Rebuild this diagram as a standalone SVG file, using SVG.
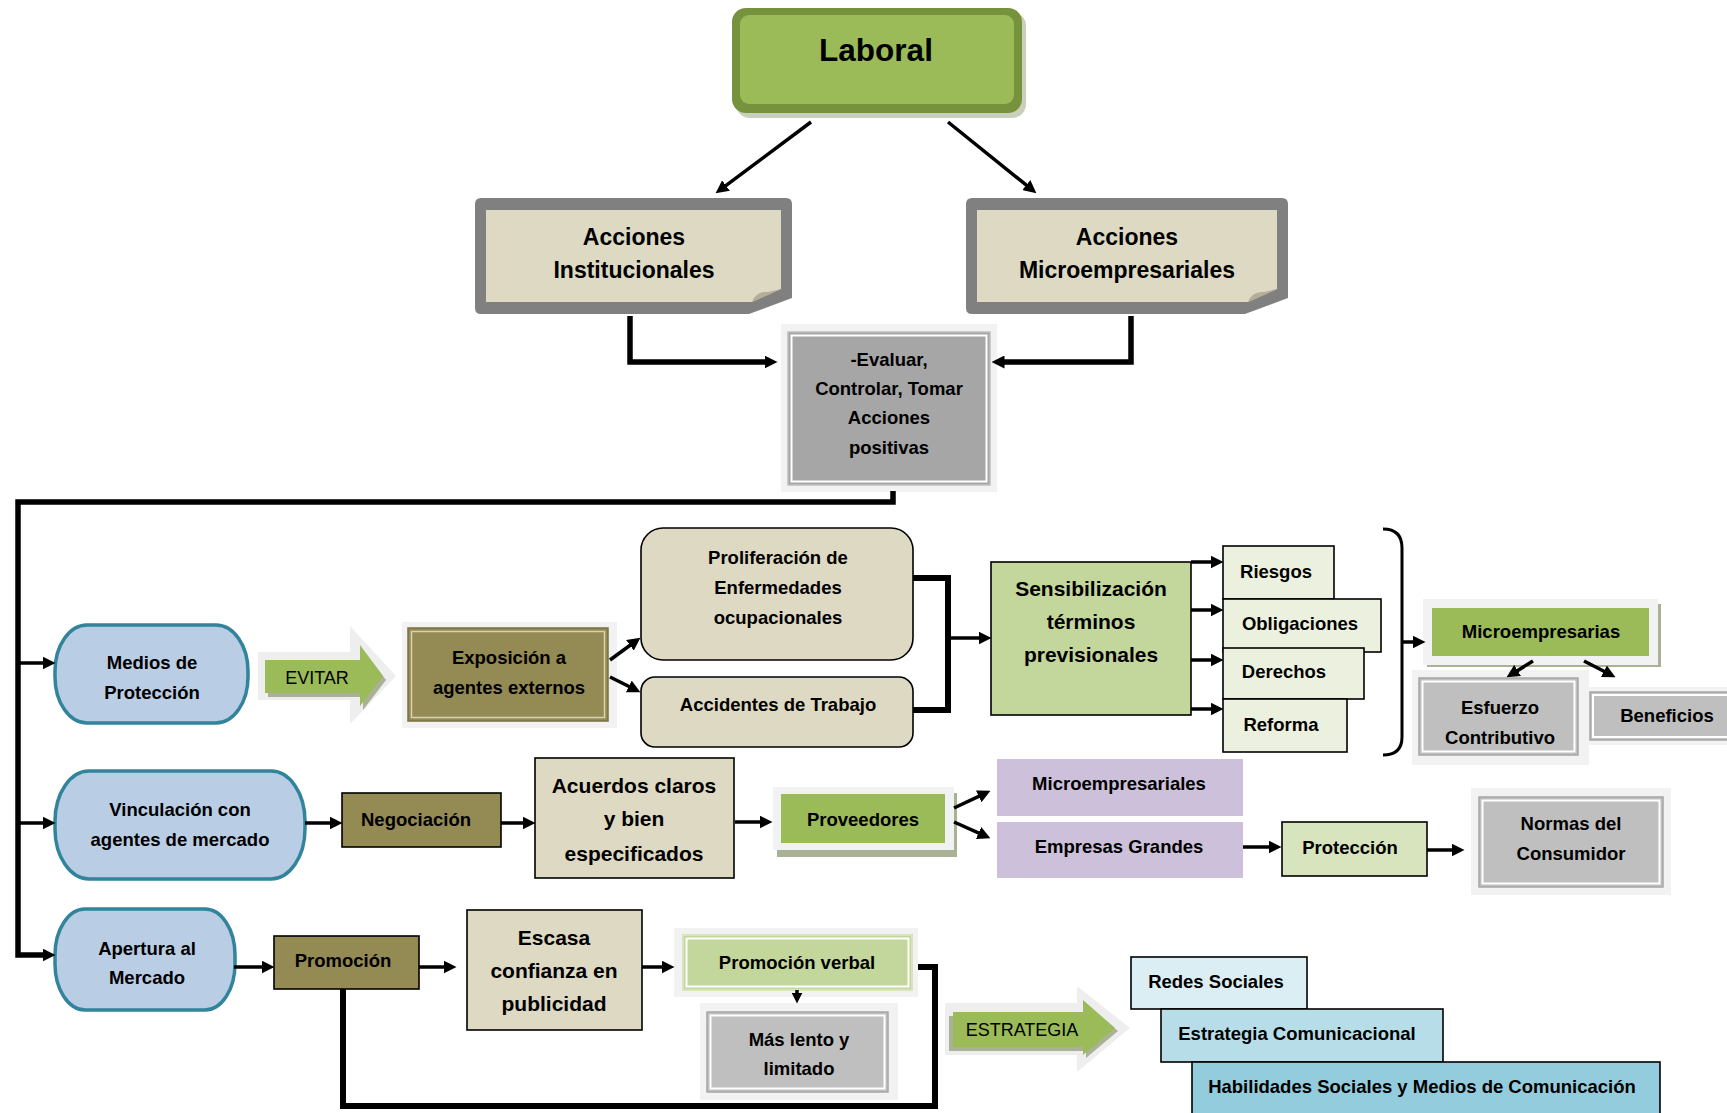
<svg xmlns="http://www.w3.org/2000/svg" width="1727" height="1113" viewBox="0 0 1727 1113">
<style>
text{font-family:"Liberation Sans Narrow","Liberation Sans",Arial,sans-serif;font-weight:bold;text-anchor:middle;fill:#000}
.r{font-weight:normal}
.s17{font-size:18.5px}
.s22{font-size:21px}
.s23{font-size:23px}
.ln{fill:none;stroke:#000;stroke-width:3.5}
.thk{fill:none;stroke:#000;stroke-width:5.5}
.frame{fill:#F2F2F2}
.bx{stroke:#000;stroke-width:1.6}
.pill{fill:#B9CDE5;stroke:#31849B;stroke-width:3.5}
.beige{fill:#DDD9C3}
.olive{fill:#948A54}
.gray{fill:#BFBFBF;stroke:#A6A6A6;stroke-width:1.5}
.wl{fill:none;stroke:#FFFFFF;stroke-width:2}
.green{fill:#9BBB59}
.lgreen{fill:#C3D69B}
.pale{fill:#EBF1DE}
.lav{fill:#CCC0DA}
.shadow{fill:#A9B196}
</style>
<defs>
<marker id="ah" viewBox="0 0 10 10" refX="5" refY="5" markerWidth="13" markerHeight="13" markerUnits="userSpaceOnUse" orient="auto"><path d="M0,0 L10,5 L0,10 z" fill="#000"/></marker>
<marker id="ahs" viewBox="0 0 10 10" refX="4" refY="5" markerWidth="11" markerHeight="11" markerUnits="userSpaceOnUse" orient="auto"><path d="M0,0 L10,5 L0,10 z" fill="#000"/></marker>
</defs>
<rect width="1727" height="1113" fill="#FFFFFF"/>

<g id="laboral">
<rect x="736" y="12" width="290" height="106" rx="14" fill="#C9CFBA"/>
<rect x="732" y="8" width="290" height="105" rx="14" fill="#76923C"/>
<rect x="740" y="15" width="274" height="89" rx="9" class="green"/>
<text x="876" y="61" style="font-family:'Liberation Sans',Arial,sans-serif;font-size:31.5px">Laboral</text>
</g>

<g id="acciones-institucionales">
<path d="M475,204 Q475,198 481,198 H786 Q792,198 792,204 V298 L749,314 H481 Q475,314 475,308 Z" fill="#808080"/>
<path d="M486,210 H781 V289 L752,302 H486 Z" class="beige"/>
<path d="M752,302 Q756,291 768,292 L781,289 L752,302 Z" fill="#B3AE96"/>
<text class="s23" x="634" y="245">Acciones</text>
<text class="s23" x="634" y="278">Institucionales</text>
</g>

<g id="acciones-microempresariales">
<path d="M966,204 Q966,198 972,198 H1282 Q1288,198 1288,204 V298 L1245,314 H972 Q966,314 966,308 Z" fill="#808080"/>
<path d="M977,210 H1277 V289 L1248,302 H977 Z" class="beige"/>
<path d="M1248,302 Q1252,291 1264,292 L1277,289 L1248,302 Z" fill="#B3AE96"/>
<text class="s23" x="1127" y="245">Acciones</text>
<text class="s23" x="1127" y="278">Microempresariales</text>
</g>

<g id="evaluar">
<rect x="781" y="324" width="216" height="168" class="frame"/>
<rect x="788" y="332" width="202" height="153" fill="#A6A6A6" stroke="#BFBFBF" stroke-width="1.5"/>
<rect x="791.5" y="335.5" width="195" height="146" class="wl"/>
<text class="s17" x="889" y="366">-Evaluar,</text>
<text class="s17" x="889" y="395">Controlar, Tomar</text>
<text class="s17" x="889" y="424">Acciones</text>
<text class="s17" x="889" y="454">positivas</text>
</g>

<g id="medios">
<rect x="55" y="625" width="193" height="98" rx="32" ry="46" class="pill"/>
<text class="s17" x="152" y="669">Medios de</text>
<text class="s17" x="152" y="699">Protección</text>
</g>

<g id="evitar">
<polygon points="258,652 350,652 350,626 396,676 350,724 350,700 258,700" fill="#EEEEEE"/>
<polygon points="268,664 363,664 363,650 386,680 363,710 363,697 268,697" class="shadow"/>
<polygon points="265,660 360,660 360,645 383,676 360,706 360,693 265,693" class="green"/>
<text class="r" x="317" y="684" style="font-size:18px">EVITAR</text>
</g>

<g id="exposicion">
<rect x="402" y="622" width="215" height="106" class="frame"/>
<rect x="408" y="628" width="200" height="93" class="olive" stroke="#7A7040" stroke-width="1.5"/>
<rect x="411.5" y="631.5" width="193" height="86" fill="none" stroke="#D8D2B0" stroke-width="1.5"/>
<text class="s17" x="509" y="664">Exposición a</text>
<text class="s17" x="509" y="694">agentes externos</text>
</g>

<g id="proliferacion">
<rect x="641" y="528" width="272" height="132" rx="22" class="beige bx"/>
<text class="s17" x="778" y="564">Proliferación de</text>
<text class="s17" x="778" y="594">Enfermedades</text>
<text class="s17" x="778" y="624">ocupacionales</text>
</g>

<g id="accidentes">
<rect x="641" y="677" width="272" height="70" rx="14" class="beige bx"/>
<text class="s17" x="778" y="711">Accidentes de Trabajo</text>
</g>

<g id="sensibilizacion">
<rect x="991" y="562" width="200" height="153" class="lgreen bx"/>
<text class="s22" x="1091" y="596">Sensibilización</text>
<text class="s22" x="1091" y="629">términos</text>
<text class="s22" x="1091" y="662">previsionales</text>
</g>

<g id="riesgos">
<rect x="1223" y="546" width="111" height="53" class="pale bx"/>
<text class="s17" x="1276" y="578">Riesgos</text>
</g>
<g id="obligaciones">
<rect x="1223" y="599" width="158" height="53" class="pale bx"/>
<text class="s17" x="1300" y="630">Obligaciones</text>
</g>
<g id="derechos">
<rect x="1223" y="648" width="141" height="51" class="pale bx"/>
<text class="s17" x="1284" y="678">Derechos</text>
</g>
<g id="reforma">
<rect x="1223" y="699" width="124" height="53" class="pale bx"/>
<text class="s17" x="1281" y="731">Reforma</text>
</g>

<g id="microempresarias">
<rect x="1427" y="604" width="234" height="63" class="shadow"/>
<rect x="1423" y="599" width="235" height="66" class="frame"/>
<rect x="1432" y="608" width="217" height="48" class="green"/>
<text class="s17" x="1541" y="638">Microempresarias</text>
</g>

<g id="beneficios">
<rect x="1585" y="687" width="150" height="58" class="frame"/>
<rect x="1590" y="692" width="145" height="48" class="gray"/>
<rect x="1593" y="695" width="145" height="42" class="wl"/>
<text class="s17" x="1667" y="722">Beneficios</text>
</g>

<g id="esfuerzo">
<rect x="1412" y="670" width="177" height="95" class="frame"/>
<rect x="1419" y="678" width="159" height="77" class="gray"/>
<rect x="1422.5" y="681.5" width="152" height="70" class="wl"/>
<text class="s17" x="1500" y="714">Esfuerzo</text>
<text class="s17" x="1500" y="744">Contributivo</text>
</g>

<g id="vinculacion">
<rect x="55" y="771" width="250" height="108" rx="34" ry="50" class="pill"/>
<text class="s17" x="180" y="816">Vinculación con</text>
<text class="s17" x="180" y="846">agentes de mercado</text>
</g>

<g id="negociacion">
<rect x="342" y="793" width="159" height="54" class="olive bx"/>
<text class="s17" x="416" y="826">Negociación</text>
</g>

<g id="acuerdos">
<rect x="535" y="758" width="199" height="120" class="beige bx"/>
<text class="s22" x="634" y="793">Acuerdos claros</text>
<text class="s22" x="634" y="826">y bien</text>
<text class="s22" x="634" y="861">especificados</text>
</g>

<g id="proveedores">
<rect x="777" y="793" width="180" height="64" class="shadow"/>
<rect x="773" y="787" width="181" height="63" class="frame"/>
<rect x="781" y="794" width="164" height="49" class="green"/>
<text class="s17" x="863" y="826">Proveedores</text>
</g>

<g id="microempresariales">
<rect x="997" y="759" width="246" height="57" class="lav"/>
<text class="s17" x="1119" y="790">Microempresariales</text>
</g>

<g id="empresas-grandes">
<rect x="997" y="822" width="246" height="56" class="lav"/>
<text class="s17" x="1119" y="853">Empresas Grandes</text>
</g>

<g id="proteccion">
<rect x="1282" y="822" width="145" height="54" fill="#D7E4BD" class="bx"/>
<text class="s17" x="1350" y="854">Protección</text>
</g>

<g id="normas">
<rect x="1471" y="788" width="200" height="107" class="frame"/>
<rect x="1479" y="797" width="184" height="90" class="gray"/>
<rect x="1482.5" y="800.5" width="177" height="83" class="wl"/>
<text class="s17" x="1571" y="830">Normas del</text>
<text class="s17" x="1571" y="860">Consumidor</text>
</g>

<g id="apertura">
<rect x="55" y="909" width="180" height="101" rx="30" ry="46" class="pill"/>
<text class="s17" x="147" y="955">Apertura al</text>
<text class="s17" x="147" y="984">Mercado</text>
</g>

<g id="promocion">
<rect x="274" y="936" width="145" height="53" class="olive bx"/>
<text class="s17" x="343" y="967">Promoción</text>
</g>

<g id="escasa">
<rect x="467" y="910" width="175" height="120" class="beige bx"/>
<text class="s22" x="554" y="945">Escasa</text>
<text class="s22" x="554" y="978">confianza en</text>
<text class="s22" x="554" y="1011">publicidad</text>
</g>

<g id="promocion-verbal">
<rect x="674" y="928" width="244" height="69" class="frame"/>
<rect x="683" y="935" width="229" height="55" class="lgreen" stroke="#D7E4BD" stroke-width="2"/>
<rect x="686.5" y="938.5" width="222" height="48" class="wl"/>
<text class="s17" x="797" y="969">Promoción verbal</text>
</g>

<g id="mas-lento">
<rect x="700" y="1003" width="198" height="97" class="frame"/>
<rect x="707" y="1012" width="181" height="80" class="gray"/>
<rect x="710.5" y="1015.5" width="174" height="73" class="wl"/>
<text class="s17" x="799" y="1046">Más lento y</text>
<text class="s17" x="799" y="1075">limitado</text>
</g>

<g id="estrategia">
<polygon points="945,1003 1077,1003 1077,986 1130,1028 1077,1072 1077,1055 945,1055" fill="#EEEEEE"/>
<polygon points="949,1016 1086,1016 1086,1004 1118,1031 1086,1058 1086,1051 949,1051" class="shadow"/>
<polygon points="953,1012 1083,1012 1083,1000 1115,1028 1083,1055 1083,1047 953,1047" class="green"/>
<text class="r" x="1022" y="1036" style="font-size:18px">ESTRATEGIA</text>
</g>

<g id="redes-sociales">
<rect x="1131" y="957" width="176" height="52" fill="#DBEEF4" class="bx"/>
<text class="s17" x="1216" y="988">Redes Sociales</text>
</g>

<g id="estrategia-comunicacional">
<rect x="1161" y="1009" width="282" height="53" fill="#B7DEE8" class="bx"/>
<text class="s17" x="1297" y="1040">Estrategia Comunicacional</text>
</g>

<g id="habilidades">
<rect x="1192" y="1062" width="468" height="60" fill="#93CDDD" class="bx"/>
<text class="s17" x="1422" y="1093">Habilidades Sociales y Medios de Comunicación</text>
</g>

<g id="connectors">
<line class="ln" x1="811" y1="122" x2="720.8" y2="189.4" marker-end="url(#ah)"/>
<line class="ln" x1="948" y1="122" x2="1031.3" y2="189.2" marker-end="url(#ah)"/>
<path class="thk" d="M630,316 V362 H771" marker-end="url(#ah)"/>
<path class="thk" d="M1131,316 V362 H998" marker-end="url(#ah)"/>
<path class="thk" d="M893,491 V502 H18 V955 H49" marker-end="url(#ah)"/>
<path class="ln" d="M18,663 H49" marker-end="url(#ah)"/>
<path class="ln" d="M18,823 H49" marker-end="url(#ah)"/>
<line class="ln" x1="610" y1="660" x2="635.2" y2="641.5" marker-end="url(#ah)"/>
<line class="ln" x1="610" y1="677" x2="634.6" y2="689.3" marker-end="url(#ah)"/>
<path class="thk" style="stroke-width:6" d="M913,578 H948 V710 H913"/>
<path class="ln" d="M948,638 H985" marker-end="url(#ah)"/>
<path class="ln" d="M1191,562 H1217" marker-end="url(#ah)"/>
<path class="ln" d="M1191,610 H1217" marker-end="url(#ah)"/>
<path class="ln" d="M1191,660 H1217" marker-end="url(#ah)"/>
<path class="ln" d="M1191,709 H1217" marker-end="url(#ah)"/>
<path class="ln" style="stroke-width:3" d="M1383,529 Q1402,529 1402,548 V737 Q1402,755 1383,755"/>
<path class="ln" d="M1402,642 H1419" marker-end="url(#ah)"/>
<line class="ln" x1="1533" y1="661" x2="1512.1" y2="673.9" marker-end="url(#ah)"/>
<line class="ln" x1="1584" y1="661" x2="1609.7" y2="674.3" marker-end="url(#ah)"/>
<path class="ln" d="M305,823 H336" marker-end="url(#ah)"/>
<path class="ln" d="M501,823 H529" marker-end="url(#ah)"/>
<path class="ln" d="M735,822 H766" marker-end="url(#ah)"/>
<line class="ln" x1="954" y1="808" x2="984.6" y2="793.6" marker-end="url(#ah)"/>
<line class="ln" x1="954" y1="822" x2="984.5" y2="835.6" marker-end="url(#ah)"/>
<path class="ln" d="M1243,847 H1275" marker-end="url(#ah)"/>
<path class="ln" d="M1427,850 H1458" marker-end="url(#ah)"/>
<path class="ln" d="M234,967 H268" marker-end="url(#ah)"/>
<path class="ln" d="M419,967 H450" marker-end="url(#ah)"/>
<path class="ln" d="M642,967 H668" marker-end="url(#ah)"/>
<path class="ln" d="M797,990 V997" marker-end="url(#ahs)"/>
<path class="thk" style="stroke-width:6" d="M343,989 V1106 H935 V967 H918"/>
</g>
</svg>
